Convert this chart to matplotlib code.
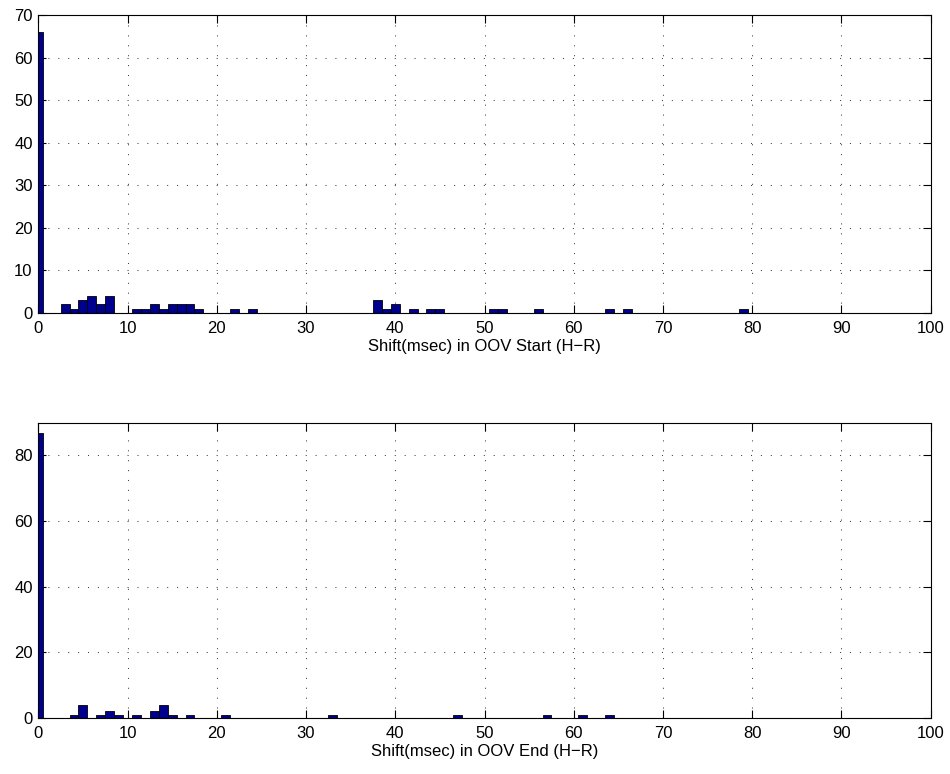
import matplotlib
matplotlib.use("Agg")
import matplotlib.pyplot as plt

# --- Data (histogram bin centres and counts) --------------------------------
start_bins   = [0, 3, 4, 5, 6, 7, 8, 11, 12, 13, 14, 15, 16, 17, 18, 22, 24,
                38, 39, 40, 42, 44, 45, 51, 52, 56, 64, 66, 79]
start_counts = [66, 2, 1, 3, 4, 2, 4, 1, 1, 2, 1, 2, 2, 2, 1, 1, 1,
                3, 1, 2, 1, 1, 1, 1, 1, 1, 1, 1, 1]

end_bins   = [0, 4, 5, 7, 8, 9, 11, 13, 14, 15, 17, 21, 33, 47, 57, 61, 64]
end_counts = [87, 1, 4, 1, 2, 1, 1, 2, 4, 1, 1, 1, 1, 1, 1, 1, 1]

start_label = "Shift(msec) in OOV Start (H\u2212R)"
end_label   = "Shift(msec) in OOV End (H\u2212R)"

plt.rcParams["font.family"] = ["Liberation Sans", "DejaVu Sans"]

BAR_COLOR = "#00008F"
FS = 12


def draw_hist(ax, bins, counts, ylim, yticks, label):
    ax.bar(bins, counts, width=1.0, color=BAR_COLOR, edgecolor="black",
           linewidth=0.6, zorder=3)
    ax.set_xlim(0, 100)
    ax.set_ylim(*ylim)
    ax.set_xticks(range(0, 101, 10))
    ax.set_yticks(yticks)
    ax.grid(True, linestyle=(0, (1, 8.5)), color="#404040", linewidth=0.75)
    ax.tick_params(direction="in", top=True, right=True, length=6, width=0.8,
                   labelsize=FS)
    ax.tick_params(axis="x", pad=6)
    ax.tick_params(axis="y", pad=4)
    for s in ax.spines.values():
        s.set_linewidth(0.8)
        s.set_zorder(4)
    ax.set_xlabel(label, fontsize=FS, labelpad=2)


fig = plt.figure(figsize=(9.5, 7.74), dpi=100)
ax1 = fig.add_axes([0.0403, 0.5956, 0.9394, 0.3850])
ax2 = fig.add_axes([0.0403, 0.0724, 0.9394, 0.3815])

draw_hist(ax1, start_bins, start_counts, (0, 70), range(0, 71, 10), start_label)
draw_hist(ax2, end_bins, end_counts, (0, 90), range(0, 81, 20), end_label)

fig.savefig("out.png", dpi=100)
